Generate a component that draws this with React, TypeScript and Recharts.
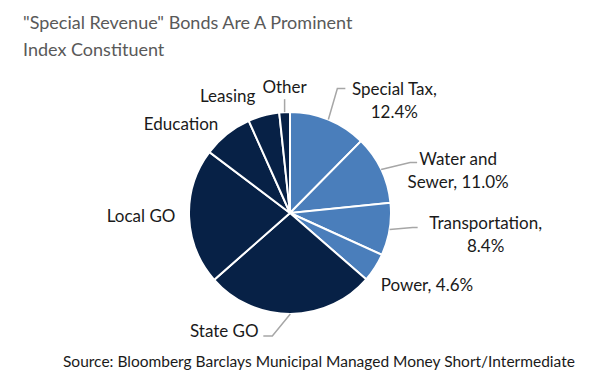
import { PieChart, Pie, Cell } from "recharts";

const CATEGORIES = ["Special Tax", "Water and Sewer", "Transportation", "Power", "State GO", "Local GO", "Education", "Leasing", "Other"];
const SHARES = [12.4, 11.0, 8.4, 4.6, 27.1, 21.8, 8.0, 5.0, 1.7];
const LABEL_TEXT = [
  ["Special Tax,", "12.4%"],
  ["Water and", "Sewer, 11.0%"],
  ["Transportation,", "8.4%"],
  ["Power, 4.6%"],
  ["State GO"],
  ["Local GO"],
  ["Education"],
  ["Leasing"],
  ["Other"],
];
const REVENUE = [true, true, true, true, false, false, false, false, false];

const BLUE = "#4A7EBB";
const NAVY = "#072146";

// label placement relative to the slice's outer edge point
const LABEL_POS = [
  { tx: 66, ty: -32, line: [[9, -31], [17, -31]] },
  { tx: 77, ty: -11, line: [[29, -7], [36, -7]] },
  { tx: 96, ty: -7, line: [[23, -2], [28, -2]] },
  { tx: 52, ty: 16 },
  { tx: -66, ty: 16, line: [[-18, 22], [-27, 22]] },
  { tx: -48, ty: -2 },
  { tx: -46, ty: -11 },
  { tx: -36, ty: -20 },
  { tx: 0, ty: -26, line: [[0, -13]] },
];

const data = CATEGORIES.map((name, i) => ({ name, value: SHARES[i] }));
const RAD = Math.PI / 180;
const FONT = "Lato, 'Liberation Sans', Arial, sans-serif";

function renderLabel(props: any) {
  const { cx, cy, midAngle, outerRadius, index } = props;
  const ex = cx + outerRadius * Math.cos(-midAngle * RAD);
  const ey = cy + outerRadius * Math.sin(-midAngle * RAD);
  const pos = LABEL_POS[index];
  const lines = LABEL_TEXT[index];
  let path = "";
  if (pos.line) {
    path = `M${ex},${ey}` + pos.line.map(([dx, dy]) => ` L${ex + dx},${ey + dy}`).join("");
  }
  return (
    <g key={`lab-${index}`}>
      {path && <path d={path} stroke="#A6A6A6" strokeWidth={1.5} fill="none" />}
      <text x={ex + pos.tx} y={ey + pos.ty} textAnchor="middle" dominantBaseline="central"
        fill="#1a1a1a" fontSize={17} fontFamily={FONT}>
        {lines.map((t, k) => (
          <tspan key={k} x={ex + pos.tx} dy={k === 0 ? 0 : 23}>{t}</tspan>
        ))}
      </text>
    </g>
  );
}

export default function App() {
  return (
    <div style={{ position: "absolute", left: 0, top: 0, width: 592, height: 383, background: "#fff", fontFamily: FONT }}>
      <div style={{ position: "absolute", left: 23, top: 9, fontSize: 18, lineHeight: "27px", color: "#595959", whiteSpace: "nowrap" }}>
        "Special Revenue" Bonds Are A Prominent<br />Index Constituent
      </div>
      <PieChart width={592} height={383} margin={{ top: 0, right: 0, bottom: 0, left: 0 }}>
        <Pie data={data} dataKey="value" nameKey="name" cx={290} cy={213} outerRadius={101}
          startAngle={90} endAngle={-270} stroke="#fff" strokeWidth={2}
          label={renderLabel} labelLine={false} isAnimationActive={false}>
          {data.map((d, i) => (
            <Cell key={d.name} fill={REVENUE[i] ? BLUE : NAVY} />
          ))}
        </Pie>
      </PieChart>
      <div style={{ position: "absolute", left: 63, top: 352, fontSize: 15.5, color: "#1a1a1a", whiteSpace: "nowrap" }}>
        Source: Bloomberg Barclays Municipal Managed Money Short/Intermediate
      </div>
    </div>
  );
}
